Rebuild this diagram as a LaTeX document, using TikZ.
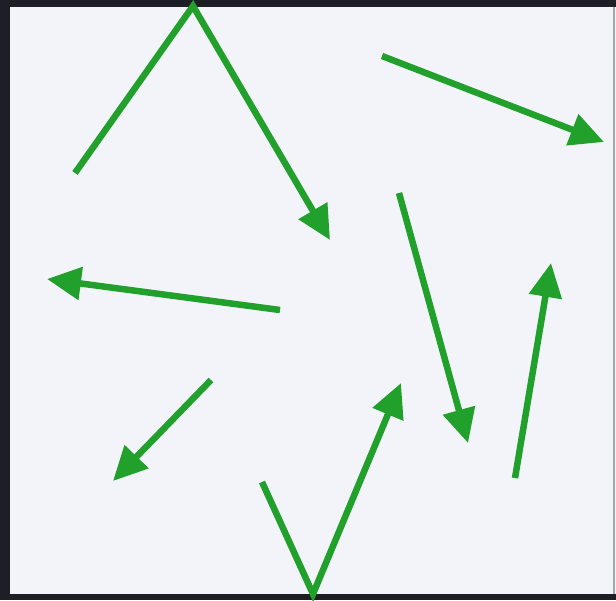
\documentclass[tikz,border=0pt]{standalone}
\usetikzlibrary{arrows.meta}
\definecolor{bg}{RGB}{243,244,250}
\definecolor{frame}{RGB}{30,30,38}
\definecolor{arr}{RGB}{34,160,44}
\tikzset{
  vec/.style={draw=arr, line width=6.5pt, -{Triangle[length=34pt,width=32pt]}, line join=miter},
}
\begin{document}
\begin{tikzpicture}[x=1pt,y=-1pt]
\useasboundingbox (0,0) rectangle (616,600);
\fill[bg] (0,0) rectangle (616,600);
\fill[frame] (0,0) rectangle (10,600);
\fill[frame] (0,0) rectangle (616,7);
\fill[frame] (0,594) rectangle (616,600);
\fill[gray!70] (613,7) rectangle (615,594);
% coordinates
\coordinate (a1) at (75,173);
\coordinate (a2) at (193,6);
\coordinate (a3) at (330,240);
\coordinate (b1) at (382,56);
\coordinate (b2) at (604,142);
\coordinate (c1) at (280,310);
\coordinate (c2) at (47,279);
\coordinate (d1) at (399,193);
\coordinate (d2) at (468,443);
\coordinate (e1) at (515,478);
\coordinate (e2) at (551,263);
\coordinate (f1) at (262,482);
\coordinate (f2) at (313,594);
\coordinate (f3) at (401,383);
\coordinate (g1) at (211,380);
\coordinate (g2) at (113,481);
% arrows
\draw[vec] (a1) -- (a2) -- (a3);
\draw[vec] (b1) -- (b2);
\draw[vec] (c1) -- (c2);
\draw[vec] (d1) -- (d2);
\draw[vec] (e1) -- (e2);
\draw[vec] (f1) -- (f2) -- (f3);
\draw[vec] (g1) -- (g2);
\end{tikzpicture}
\end{document}
